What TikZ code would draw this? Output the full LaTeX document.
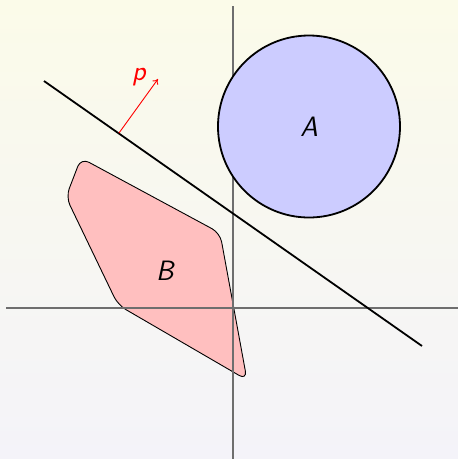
\documentclass[tikz,border=0pt]{standalone}
\usetikzlibrary{arrows.meta}
\definecolor{bgtop}{HTML}{FBFBE9}
\definecolor{bgbot}{HTML}{F4F3F9}
\definecolor{axisgray}{HTML}{6E6E6E}
\definecolor{fillA}{HTML}{CCCCFF}
\definecolor{fillB}{HTML}{FFBFBF}
\begin{document}
\begin{tikzpicture}[x=1pt,y=-1pt,
  axisline/.style={draw=axisgray,line width=1.3pt},
  setA/.style={draw=black,line width=1.8pt,fill=fillA},
  setB/.style={draw=black,line width=0.9pt,fill=fillB,rounded corners=9pt},
  sepline/.style={draw=black,line width=1.8pt},
  normal/.style={draw=red,line width=0.9pt,-{To[length=5pt,width=7pt]}},
  lab/.style={font=\fontsize{28}{30}\selectfont\sffamily\itshape,inner sep=0pt}]
\shade[top color=bgtop,bottom color=bgbot] (0,0) rectangle (458,459);
\useasboundingbox (0,0) rectangle (458,459);
\coordinate (xl) at (6,308); \coordinate (xr) at (458,308);
\coordinate (yt) at (233,6); \coordinate (yb) at (233,459);
\path[setB] (81,158) -- (220,233) -- (247,380) -- (118,305) -- (66,197) -- cycle;
\path[axisline] (xl) -- (xr);
\path[axisline] (yt) -- (yb);
\path[setA] (309,126.5) circle (91);
\coordinate (l1) at (44,81); \coordinate (l2) at (422,346);
\path[sepline] (l1) -- (l2);
\coordinate (pf) at (119,133); \coordinate (pt) at (158,79);
\path[normal] (pf) -- (pt);
\node[lab,red] (p) at (139,77) {p};
\node[lab] (A) at (309,127) {A};
\node[lab] (B) at (165,271) {B};
\end{tikzpicture}
\end{document}
